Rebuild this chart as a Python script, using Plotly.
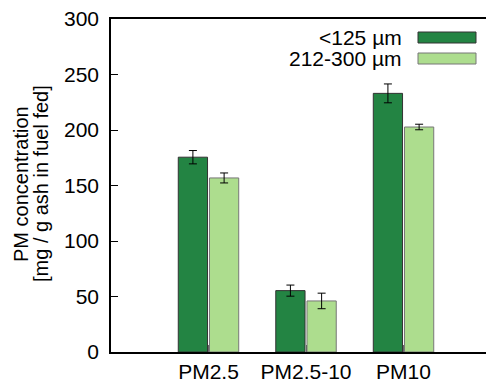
import plotly.graph_objects as go

categories = ["PM2.5", "PM2.5-10", "PM10"]
series_names = ["<125 µm", "212-300 µm"]
fine_vals = [175.5, 55.3, 233.0]
fine_err = [6.0, 5.0, 8.5]
coarse_vals = [156.8, 46.0, 202.7]
coarse_err = [4.5, 7.0, 2.5]
y_ticks = [0, 50, 100, 150, 200, 250, 300]
y_title_lines = ["PM concentration", "[mg / g ash in fuel fed]"]

colors = ["#238443", "#addd8e"]
outlines = ["#333333", "#777777"]
xpos = [1, 2, 3]

fig = go.Figure()
for vals, errs, col, oc, off, name in [
    (fine_vals, fine_err, colors[0], outlines[0], -0.31, series_names[0]),
    (coarse_vals, coarse_err, colors[1], outlines[1], 0.01, series_names[1]),
]:
    fig.add_trace(go.Bar(
        x=xpos, y=vals, width=0.3, offset=off, name=name,
        marker=dict(color=col, line=dict(color=oc, width=1)),
        error_y=dict(type="data", array=errs, color="black", thickness=1, width=4),
        showlegend=False,
    ))

fam = "Liberation Sans, Arial, sans-serif"
font = dict(family=fam, size=21, color="black")

# the page body has an 8px default margin; the figure is sized to fit inside
OFF = 8
W, H = 494 - OFF, 385 - OFF
L, T, B = 111 - OFF, 19 - OFF, 385 - 352

fig.update_layout(
    width=W, height=H,
    margin=dict(l=L, r=0, t=T, b=B),
    plot_bgcolor="white", paper_bgcolor="white",
    barmode="overlay",
    font=font,
    xaxis=dict(range=[0, 3.928], tickvals=xpos, ticktext=categories,
               showline=True, linecolor="black", linewidth=1.5, mirror=True,
               ticks="inside", ticklen=7, tickcolor="#666666", showgrid=False,
               zeroline=False, tickfont=font, automargin=False,
               ticklabelstandoff=0, ticklabeloverflow="allow"),
    yaxis=dict(range=[0, 300], tickvals=y_ticks, showline=True, linecolor="black",
               linewidth=1.5, ticks="inside", ticklen=7, tickcolor="black",
               showgrid=False, zeroline=False, tickfont=font, automargin=False,
               ticklabelstandoff=6, ticklabeloverflow="allow"),
)

pw, ph = W - L, H - T - B

def px(x):
    return (x - OFF - L) / pw

def py(y):
    return 1 - (y - OFF - T) / ph

# y-axis title as two rotated annotations
for xc, line in zip([21, 41], y_title_lines):
    fig.add_annotation(x=px(xc), y=py(184), xref="paper", yref="paper", text=line,
                       showarrow=False, textangle=-90, xanchor="center", yanchor="middle",
                       font=dict(family=fam, size=20, color="black"))

# manual legend (text left, swatch right)
rows_y = [37.5, 58.5]
for i in range(2):
    yc = rows_y[i]
    fig.add_annotation(x=px(404), y=py(yc), xref="paper", yref="paper", text=series_names[i],
                       showarrow=False, xanchor="right", yanchor="middle", font=font)
    fig.add_shape(type="rect", xref="paper", yref="paper",
                  x0=px(418), x1=px(476), y0=py(yc + 5.5), y1=py(yc - 5.5),
                  fillcolor=colors[i], line=dict(color=outlines[i], width=1))

fig.write_html("out.html")
